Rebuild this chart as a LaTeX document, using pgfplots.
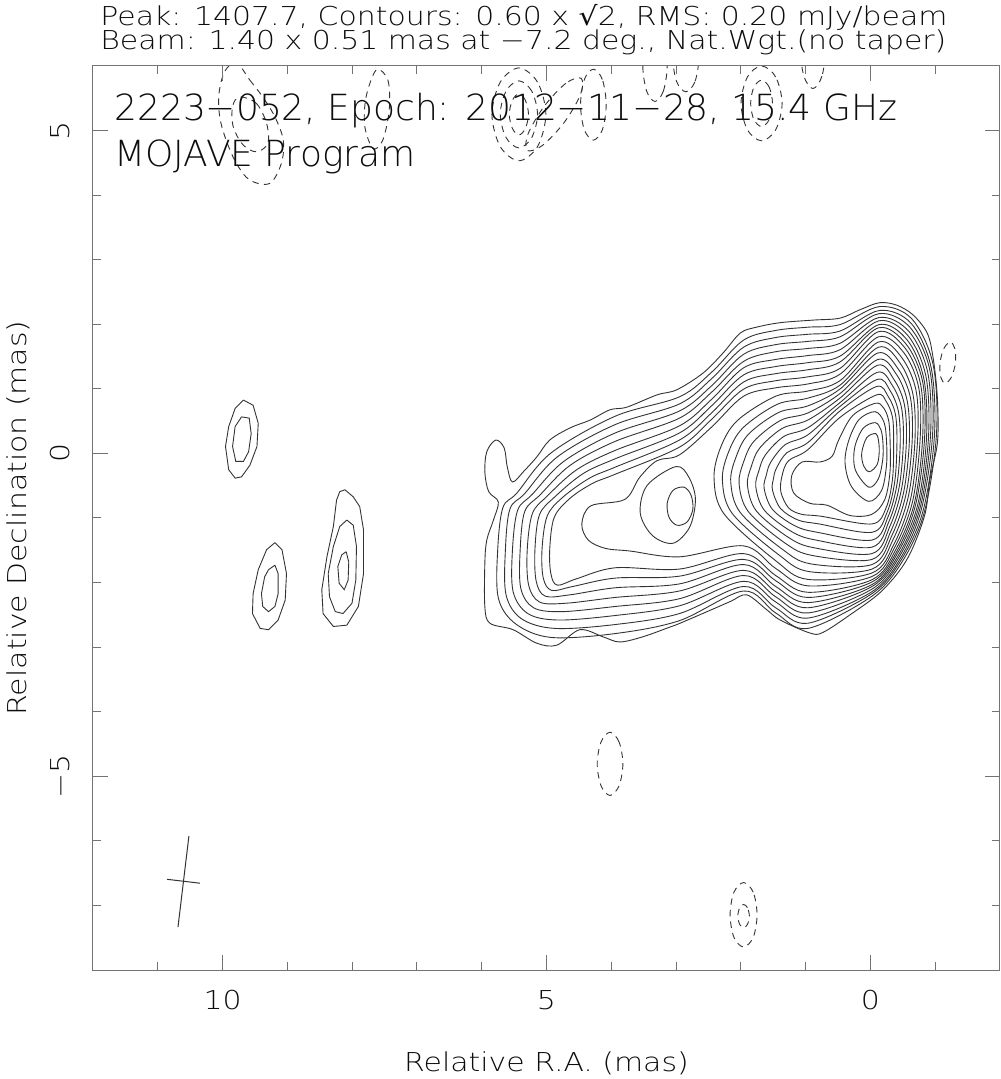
\documentclass[border=0pt]{standalone}
\usepackage{pgfplots}
\pgfplotsset{compat=1.18}
\usepackage{fontspec}
\IfFontExistsTF{DejaVu Sans ExtraLight}{%
  \setmainfont{DejaVu Sans ExtraLight}[FakeStretch=1.15]%
  \newfontfamily\insidefont{DejaVu Sans ExtraLight}%
  \definecolor{txt}{gray}{0.05}%
}{%
  \setmainfont{DejaVu Sans}[FakeStretch=1.15]%
  \newfontfamily\insidefont{DejaVu Sans}%
  \definecolor{txt}{gray}{0.3}%
}
\newfontfamily\symfont{DejaVu Sans}[FakeStretch=1.15]
\definecolor{linec}{gray}{0.2}
\definecolor{frame}{gray}{0.45}
\pgfplotsset{
 cont/.style={draw=linec, line width=0.45bp, mark=none, smooth cycle, tension=0.55},
 neg/.style={cont, dash pattern=on 3.2bp off 2.6bp},
 poly/.style={draw=linec, line width=0.45bp, mark=none, sharp plot},
}
\begin{document}
\begin{tikzpicture}
\useasboundingbox (0,0) rectangle (500.5bp,539.5bp);
% ---------------- data layer ----------------
\begin{axis}[
  at={(46.5bp,54.5bp)}, anchor=south west,
  scale only axis, width=453.5bp, height=452bp,
  x dir=reverse, xmin=-1.994, xmax=12.134, ymin=-8.016, ymax=6.0,
  hide axis, clip=true]
% L1
\addplot[cont] coordinates {(5.86,0.20) (6.00,0.02) (6.03,-0.30) (5.97,-0.60) (5.82,-0.76) (5.90,-1.05) (6.00,-1.35) (6.03,-1.70) (6.03,-2.39) (5.95,-2.64) (5.59,-2.74) (5.22,-2.95) (4.91,-2.98) (4.55,-2.74) (4.19,-2.85) (3.93,-2.93) (3.57,-2.85) (3.15,-2.70) (2.99,-2.64) (2.50,-2.43) (2.20,-2.30) (1.95,-2.20) (1.64,-2.43) (1.43,-2.59) (0.97,-2.79) (0.76,-2.78) (0.30,-2.48) (-0.12,-2.17) (-0.44,-1.81) (-0.64,-1.46) (-0.83,-0.93) (-0.90,-0.42) (-1.01,0.09) (-1.03,0.47) (-1.01,0.98) (-0.95,1.49) (-0.86,1.86) (-0.64,2.14) (-0.39,2.29) (-0.12,2.33) (0.19,2.22) (0.50,2.09) (0.92,2.06) (1.43,2.02) (1.80,1.95) (2.05,1.86) (2.32,1.55) (2.63,1.24) (3.04,0.98) (3.35,0.90) (3.82,0.71) (4.08,0.67) (4.39,0.51) (4.70,0.39) (5.02,0.20) (5.22,-0.06) (5.42,-0.28) (5.60,-0.45) (5.68,-0.22) (5.73,0.08)};
% L2
\addplot[cont] coordinates {(5.82,-2.25) (5.55,-2.65) (5.0,-2.86) (4.0,-2.80) (3.0,-2.60) (2.0,-2.14) (1.5,-2.48) (1.0,-2.72) (0.0,-2.22) (-0.48,-1.67) (-0.82,-0.9) (-1.005,0.3) (-0.95,1.38) (-0.62,2.08) (-0.12,2.27) (0.5,1.99) (1.0,1.95) (1.5,1.90) (2.0,1.75) (2.5,1.25) (3.0,0.87) (4.0,0.57) (5.0,0.0) (5.53,-0.62) (5.75,-0.85) (5.83,-1.5)};
% L3
\addplot[cont] coordinates {(5.70,-2.20) (5.46,-2.57) (4.94,-2.72) (4.0,-2.66) (3.0,-2.49) (2.0,-2.07) (1.5,-2.40) (1.0,-2.64) (0.0,-2.18) (-0.46,-1.65) (-0.80,-0.88) (-0.974,0.29) (-0.92,1.33) (-0.61,2.01) (-0.12,2.21) (0.5,1.89) (1.0,1.84) (1.5,1.79) (2.0,1.64) (2.5,1.15) (3.0,0.76) (4.0,0.44) (4.90,-0.06) (5.41,-0.63) (5.64,-0.87) (5.71,-1.5)};
% L4
\addplot[cont] coordinates {(5.59,-2.15) (5.36,-2.49) (4.89,-2.59) (4.0,-2.52) (3.0,-2.37) (2.0,-1.99) (1.5,-2.31) (1.0,-2.56) (0.0,-2.15) (-0.45,-1.62) (-0.77,-0.87) (-0.943,0.27) (-0.90,1.29) (-0.59,1.95) (-0.11,2.16) (0.5,1.80) (1.0,1.73) (1.5,1.68) (2.0,1.53) (2.5,1.04) (3.0,0.65) (4.0,0.31) (4.80,-0.13) (5.29,-0.64) (5.52,-0.89) (5.60,-1.5)};
% L5
\addplot[cont] coordinates {(5.47,-2.10) (5.27,-2.40) (4.83,-2.46) (4.0,-2.38) (3.0,-2.26) (2.0,-1.90) (1.5,-2.23) (1.0,-2.48) (0.0,-2.11) (-0.43,-1.60) (-0.75,-0.85) (-0.911,0.26) (-0.87,1.24) (-0.58,1.88) (-0.11,2.10) (0.5,1.70) (1.0,1.62) (1.5,1.57) (2.0,1.42) (2.5,0.94) (3.0,0.54) (4.0,0.18) (4.70,-0.19) (5.17,-0.65) (5.41,-0.91) (5.48,-1.5)};
% L6
\addplot[cont] coordinates {(5.35,-2.04) (5.18,-2.31) (4.77,-2.33) (4.0,-2.24) (3.0,-2.14) (2.0,-1.82) (1.5,-2.15) (1.0,-2.40) (0.0,-2.07) (-0.42,-1.57) (-0.73,-0.83) (-0.880,0.24) (-0.84,1.19) (-0.56,1.82) (-0.11,2.05) (0.5,1.60) (1.0,1.51) (1.5,1.45) (2.0,1.32) (2.5,0.83) (3.0,0.42) (4.0,0.04) (4.60,-0.26) (5.06,-0.67) (5.29,-0.94) (5.37,-1.5)};
% L7
\addplot[cont] coordinates {(5.23,-1.99) (5.09,-2.22) (4.71,-2.20) (4.0,-2.09) (3.0,-2.03) (2.0,-1.73) (1.5,-2.07) (1.0,-2.32) (0.0,-2.04) (-0.40,-1.55) (-0.71,-0.81) (-0.849,0.23) (-0.81,1.14) (-0.55,1.75) (-0.11,1.99) (0.5,1.50) (1.0,1.40) (1.5,1.34) (2.0,1.21) (2.5,0.73) (3.0,0.31) (4.0,-0.09) (4.50,-0.32) (4.94,-0.68) (5.18,-0.96) (5.25,-1.5)};
% L8
\addplot[cont] coordinates {(5.12,-1.94) (4.99,-2.13) (4.66,-2.07) (4.0,-1.94) (3.0,-1.91) (2.0,-1.65) (1.5,-1.98) (1.0,-2.24) (0.0,-2.00) (-0.39,-1.52) (-0.68,-0.80) (-0.818,0.21) (-0.79,1.10) (-0.53,1.69) (-0.10,1.94) (0.5,1.41) (1.0,1.29) (1.5,1.23) (2.0,1.10) (2.5,0.62) (3.0,0.20) (4.0,-0.22) (4.40,-0.39) (4.82,-0.69) (5.06,-0.98) (5.14,-1.5)};
% L9
\addplot[cont] coordinates {(5.0,-1.88) (4.9,-2.05) (4.6,-1.95) (4.0,-1.78) (3.0,-1.80) (2.0,-1.56) (1.5,-1.9) (1.0,-2.16) (0.0,-1.965) (-0.37,-1.5) (-0.66,-0.78) (-0.787,0.2) (-0.76,1.05) (-0.52,1.62) (-0.10,1.88) (0.5,1.31) (1.0,1.18) (1.5,1.12) (2.0,0.99) (2.5,0.52) (3.0,0.09) (4.0,-0.33) (4.35,-0.47) (4.7,-0.7) (4.95,-1.0) (5.02,-1.5)};
% L10
\addplot[cont] coordinates {(4.42,-1.35) (4.15,-1.48) (3.77,-1.52) (3.0,-1.61) (2.0,-1.44) (1.5,-1.79) (1.0,-2.06) (0.0,-1.915) (-0.35,-1.47) (-0.63,-0.76) (-0.749,0.2) (-0.73,1.0) (-0.50,1.55) (-0.10,1.80) (0.5,1.22) (1.0,1.07) (1.5,1.01) (2.0,0.88) (2.5,0.40) (3.0,-0.03) (3.35,-0.12) (3.62,-0.38) (3.85,-0.72) (4.38,-0.82) (4.52,-1.1)};
% jet component loops
\addplot[cont] coordinates {(3.05,-0.21) (2.85,-0.38) (2.75,-0.72) (2.84,-1.15) (3.1,-1.40) (3.42,-1.28) (3.61,-0.93) (3.50,-0.50)};
\addplot[cont] coordinates {(2.93,-0.53) (2.82,-0.65) (2.79,-0.87) (2.88,-1.07) (3.04,-1.12) (3.16,-1.0) (3.19,-0.78) (3.10,-0.58)};
% core loops L11..L19
\addplot[cont] coordinates {(-0.10,1.72) (0.5,1.12) (1.0,0.96) (1.5,0.88) (2.1,0.50) (2.36,0.08) (2.46,-0.40) (2.3,-0.95) (1.5,-1.67) (1.0,-1.96) (0.0,-1.86) (-0.34,-1.42) (-0.60,-0.72) (-0.71,0.2) (-0.69,0.95) (-0.47,1.47)};
\addplot[cont] coordinates {(-0.10,1.64) (0.5,1.05) (1.0,0.85) (1.475,0.755) (2.01,0.39) (2.24,0.0) (2.33,-0.425) (2.175,-0.94) (1.45,-1.58) (0.975,-1.84) (0.0,-1.80) (-0.325,-1.35) (-0.565,-0.68) (-0.669,0.19) (-0.64,0.90) (-0.44,1.39)};
\addplot[cont] coordinates {(-0.09,1.55) (0.5,0.99) (1.0,0.73) (1.45,0.63) (1.925,0.29) (2.12,-0.07) (2.20,-0.45) (2.05,-0.925) (1.40,-1.49) (0.95,-1.72) (0.0,-1.73) (-0.31,-1.28) (-0.53,-0.64) (-0.626,0.185) (-0.60,0.85) (-0.41,1.30)};
\addplot[cont] coordinates {(-0.09,1.45) (0.5,0.92) (1.0,0.62) (1.425,0.505) (1.84,0.18) (2.0,-0.14) (2.07,-0.475) (1.925,-0.91) (1.35,-1.40) (0.925,-1.59) (0.0,-1.65) (-0.295,-1.21) (-0.495,-0.60) (-0.582,0.18) (-0.55,0.80) (-0.38,1.22)};
\addplot[cont] coordinates {(-0.085,1.36) (0.5,0.85) (1.0,0.51) (1.40,0.38) (1.75,0.075) (1.88,-0.21) (1.94,-0.50) (1.80,-0.90) (1.30,-1.31) (0.90,-1.47) (0.0,-1.56) (-0.28,-1.135) (-0.46,-0.56) (-0.536,0.175) (-0.505,0.75) (-0.345,1.135)};
\addplot[cont] coordinates {(-0.08,1.25) (0.5,0.78) (1.0,0.39) (1.375,0.255) (1.66,-0.03) (1.76,-0.27) (1.81,-0.525) (1.675,-0.89) (1.25,-1.22) (0.875,-1.35) (0.0,-1.46) (-0.265,-1.06) (-0.425,-0.52) (-0.489,0.17) (-0.46,0.70) (-0.315,1.05)};
\addplot[cont] coordinates {(-0.08,1.14) (0.5,0.72) (1.0,0.28) (1.35,0.13) (1.575,-0.14) (1.645,-0.34) (1.68,-0.55) (1.55,-0.875) (1.20,-1.13) (0.85,-1.23) (0.0,-1.35) (-0.25,-0.99) (-0.39,-0.48) (-0.440,0.165) (-0.41,0.65) (-0.28,0.97)};
\addplot[cont] coordinates {(-0.07,1.03) (0.5,0.65) (1.0,0.16) (1.325,0.005) (1.49,-0.24) (1.535,-0.40) (1.55,-0.575) (1.425,-0.86) (1.15,-1.04) (0.825,-1.10) (0.0,-1.23) (-0.235,-0.92) (-0.355,-0.44) (-0.389,0.16) (-0.365,0.60) (-0.25,0.88)};
\addplot[cont] coordinates {(-0.07,0.90) (0.5,0.55) (1.0,0.05) (1.3,-0.12) (1.40,-0.35) (1.42,-0.6) (1.3,-0.85) (1.1,-0.95) (0.8,-0.98) (0.0,-1.10) (-0.22,-0.85) (-0.32,-0.40) (-0.337,0.15) (-0.32,0.55) (-0.22,0.80)};
% L20 (with western lobe)
\addplot[cont] coordinates {(-0.05,0.77) (0.30,0.58) (0.52,0.20) (0.62,-0.05) (0.81,-0.14) (1.09,-0.14) (1.25,-0.35) (1.22,-0.62) (0.97,-0.78) (0.70,-0.81) (0.34,-0.97) (0.0,-0.95) (-0.20,-0.72) (-0.28,-0.3) (-0.283,0.15) (-0.26,0.50) (-0.18,0.70)};
% L21..L23
\addplot[cont] coordinates {(-0.05,0.64) (0.20,0.52) (0.36,0.20) (0.42,-0.15) (0.32,-0.52) (0.05,-0.75) (-0.15,-0.58) (-0.225,-0.2) (-0.228,0.15) (-0.19,0.47)};
\addplot[cont] coordinates {(-0.05,0.47) (0.14,0.38) (0.27,0.08) (0.26,-0.26) (0.05,-0.53) (-0.10,-0.40) (-0.168,-0.1) (-0.171,0.15) (-0.14,0.36)};
\addplot[cont] coordinates {(-0.06,0.30) (0.08,0.24) (0.16,0.0) (0.13,-0.2) (0.04,-0.29) (-0.08,-0.18) (-0.113,0.02) (-0.10,0.20)};
% isolated blobs
\addplot[poly] coordinates {(9.79,0.82) (9.64,0.74) (9.56,0.46) (9.58,0.10) (9.69,-0.19) (9.82,-0.37) (9.92,-0.39) (10.02,-0.26) (10.07,0.10) (10.02,0.41) (9.92,0.69) (9.79,0.82)};
\addplot[poly] coordinates {(9.82,0.56) (9.70,0.54) (9.67,0.30) (9.71,0.02) (9.79,-0.13) (9.91,-0.13) (9.96,0.10) (9.92,0.41) (9.82,0.56)};
\addplot[poly] coordinates {(9.30,-1.39) (9.19,-1.50) (9.12,-1.87) (9.14,-2.28) (9.25,-2.59) (9.40,-2.74) (9.53,-2.72) (9.65,-2.49) (9.64,-2.18) (9.56,-1.81) (9.43,-1.50) (9.30,-1.39)};
\addplot[poly] coordinates {(9.30,-1.74) (9.25,-1.87) (9.25,-2.18) (9.30,-2.38) (9.40,-2.46) (9.49,-2.38) (9.51,-2.18) (9.46,-1.92) (9.40,-1.81) (9.30,-1.74)};
\addplot[poly] coordinates {(8.21,-0.57) (8.08,-0.68) (7.98,-0.83) (7.92,-1.19) (7.92,-1.87) (8.00,-2.38) (8.18,-2.67) (8.39,-2.69) (8.55,-2.49) (8.57,-2.12) (8.49,-1.61) (8.39,-1.14) (8.34,-0.73) (8.29,-0.60) (8.21,-0.57)};
\addplot[poly] coordinates {(8.18,-1.04) (8.08,-1.12) (8.03,-1.45) (8.04,-1.97) (8.10,-2.33) (8.24,-2.49) (8.36,-2.46) (8.45,-2.23) (8.47,-1.87) (8.39,-1.45) (8.29,-1.14) (8.18,-1.04)};
\addplot[poly] coordinates {(8.19,-1.53) (8.15,-1.69) (8.16,-1.97) (8.22,-2.12) (8.30,-2.02) (8.32,-1.76) (8.26,-1.58) (8.19,-1.53)};
% negative (dashed) contours
\addplot[neg] coordinates {(9.9,6.05) (9.69,5.78) (9.49,5.52) (9.30,5.21) (9.17,4.85) (9.20,4.49) (9.38,4.18) (9.69,4.23) (9.90,4.49) (10.06,4.85) (10.16,5.21) (10.17,5.58) (10.08,5.92)};
\addplot[neg] coordinates {(9.85,5.52) (9.59,5.42) (9.43,5.11) (9.41,4.80) (9.59,4.67) (9.80,4.78) (9.95,5.06) (9.96,5.37)};
\addplot[neg] coordinates {(7.72,5.94) (7.54,5.78) (7.52,5.32) (7.62,4.85) (7.77,4.72) (7.90,5.06) (7.88,5.52)};
\addplot[neg] coordinates {(5.08,5.25) (5.21,5.75) (5.50,5.97) (5.79,5.75) (5.92,5.25) (5.79,4.75) (5.50,4.53) (5.21,4.75)};
\addplot[neg] coordinates {(5.21,5.25) (5.30,5.61) (5.50,5.77) (5.70,5.61) (5.79,5.25) (5.70,4.89) (5.50,4.73) (5.30,4.89)};
\addplot[neg] coordinates {(5.35,5.25) (5.40,5.47) (5.50,5.57) (5.60,5.47) (5.65,5.25) (5.60,5.03) (5.50,4.93) (5.40,5.03)};
\addplot[neg] coordinates {(4.53,5.81) (4.77,5.73) (5.11,5.37) (5.36,4.94) (5.37,4.69) (5.13,4.77) (4.79,5.13) (4.54,5.56)};
\addplot[neg] coordinates {(4.14,5.4) (4.20,5.79) (4.34,5.95) (4.48,5.79) (4.54,5.4) (4.48,5.01) (4.34,4.85) (4.20,5.01)};
\addplot[neg] coordinates {(3.19,6.0) (3.25,5.61) (3.38,5.45) (3.51,5.61) (3.57,6.0) (3.51,6.39) (3.38,6.55) (3.25,6.39)};
\addplot[neg] coordinates {(2.70,6.1) (2.76,5.75) (2.90,5.60) (3.04,5.75) (3.10,6.1) (3.04,6.45) (2.90,6.6) (2.76,6.45)};
\addplot[neg] coordinates {(1.40,5.42) (1.50,5.83) (1.72,6.0) (1.94,5.83) (2.04,5.42) (1.94,5.01) (1.72,4.84) (1.50,5.01)};
\addplot[neg] coordinates {(1.55,5.42) (1.60,5.67) (1.72,5.78) (1.84,5.67) (1.89,5.42) (1.84,5.17) (1.72,5.06) (1.60,5.17)};
\addplot[neg] coordinates {(0.72,6.3) (0.78,5.84) (0.92,5.65) (1.06,5.84) (1.12,6.3) (1.06,6.76) (0.92,6.95) (0.78,6.76)};
\addplot[neg] coordinates {(-1.06,1.40) (-1.12,1.62) (-1.22,1.72) (-1.29,1.62) (-1.30,1.40) (-1.24,1.18) (-1.14,1.08) (-1.07,1.18)};
\addplot[neg] coordinates {(3.88,-4.82) (3.94,-4.48) (4.08,-4.33) (4.22,-4.48) (4.28,-4.82) (4.22,-5.16) (4.08,-5.31) (3.94,-5.16)};
\addplot[neg] coordinates {(1.79,-7.16) (1.85,-6.81) (2.0,-6.66) (2.15,-6.81) (2.21,-7.16) (2.15,-7.51) (2.0,-7.66) (1.85,-7.51)};
\addplot[neg] coordinates {(1.91,-7.18) (1.94,-7.05) (2.0,-7.0) (2.06,-7.05) (2.09,-7.18) (2.06,-7.31) (2.0,-7.36) (1.94,-7.31)};
% beam
\addplot[poly, line width=0.5bp] coordinates {(10.64,-5.94) (10.81,-7.35)};
\addplot[poly, line width=0.5bp] coordinates {(10.98,-6.61) (10.47,-6.67)};
\end{axis}
% ---------------- frame layer ----------------
\begin{axis}[
  at={(46.5bp,54.5bp)}, anchor=south west,
  scale only axis, width=453.5bp, height=452bp,
  x dir=reverse, xmin=-2, xmax=12, ymin=-8, ymax=6,
  xtick={0,5,10}, xticklabels={0,5,10},
  ytick={-5,0,5}, yticklabels={−5,0,5},
  minor xtick={-1,1,2,3,4,6,7,8,9,11},
  minor ytick={-7,-6,-4,-3,-2,-1,1,2,3,4},
  tick align=inside, xtick pos=both, ytick pos=both,
  major tick length=7.5bp, minor tick length=4bp,
  axis line style={draw=frame, line width=0.5bp},
  every tick/.append style={draw=frame, line width=0.5bp},
  xticklabel style={font=\fontsize{13bp}{15bp}\selectfont, text=txt, inner sep=0pt, anchor=north, yshift=-10bp},
  yticklabel style={font=\fontsize{13bp}{15bp}\selectfont, text=txt, inner sep=0pt, xshift=-11.5bp, rotate=90, anchor=south},
  clip=false]
\node[anchor=base west, text=txt, font=\fontsize{13bp}{15bp}\selectfont, inner sep=0pt, xshift=3.5bp, yshift=20bp] at (rel axis cs:0,1) {Peak: 1407.7, Contours: 0.60 x {\symfont √}2, RMS: 0.20 mJy/beam};
\node[anchor=base west, text=txt, font=\fontsize{13bp}{15bp}\selectfont, inner sep=0pt, xshift=3.5bp, yshift=8bp] at (rel axis cs:0,1) {Beam: 1.40 x 0.51 mas at −7.2 deg., Nat.Wgt.(no taper)};
\node[anchor=base west, text=txt, font=\insidefont\fontsize{18bp}{20bp}\selectfont, inner sep=0pt, xshift=10.5bp, yshift=-27.5bp] at (rel axis cs:0,1) {2223−052, Epoch: 2012−11−28, 15.4 GHz};
\node[anchor=base west, text=txt, font=\insidefont\fontsize{18bp}{20bp}\selectfont, inner sep=0pt, xshift=10.5bp, yshift=-50.5bp] at (rel axis cs:0,1) {MOJAVE Program};
\node[anchor=base, text=txt, font=\fontsize{13bp}{15bp}\selectfont, inner sep=0pt, yshift=-50.5bp] at (rel axis cs:0.5,0) {Relative R.A. (mas)};
\node[xshift=-33bp, rotate=90, anchor=base, text=txt, font=\fontsize{13bp}{15bp}\selectfont, inner sep=0pt] at (rel axis cs:0,0.5) {Relative Declination (mas)};
\end{axis}
\end{tikzpicture}
\end{document}
